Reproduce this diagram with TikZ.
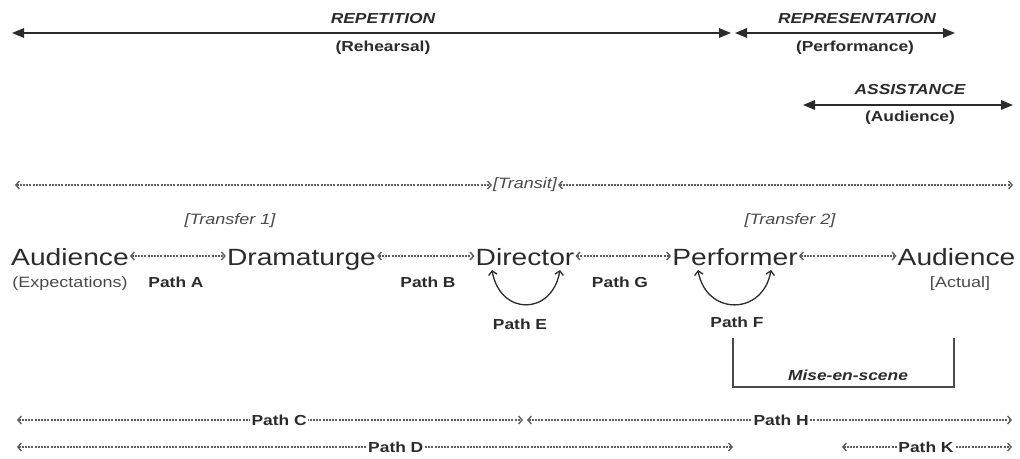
\documentclass[tikz,border=0pt]{standalone}
\usepackage{fontspec}
\setmainfont[FakeStretch=1.2]{Liberation Sans}
\usetikzlibrary{arrows.meta}
\definecolor{ink}{HTML}{2B2B2B}
\definecolor{soft}{HTML}{4A4A4A}
\definecolor{dotc}{HTML}{5E5E5E}
\tikzset{
  solidarr/.style={draw=ink, line width=1.6pt, {Triangle[length=12pt,width=9.5pt]}-{Triangle[length=12pt,width=9.5pt]}},
  dotarr/.style={draw=dotc, line width=1.4pt, dash pattern=on 2pt off 1.2pt,
     {Straight Barb[length=3.5pt,width=8pt]}-{Straight Barb[length=3.5pt,width=8pt]}},
  curvarr/.style={draw=ink, line width=1.3pt, {Straight Barb[length=4pt,width=8.5pt]}-{Straight Barb[length=4pt,width=8.5pt]}},
  brackline/.style={draw=soft, line width=1.3pt},
  head/.style={font=\fontsize{14.5}{16}\selectfont\bfseries\itshape, text=ink, inner sep=1pt},
  sub/.style={font=\fontsize{14.5}{16}\selectfont\bfseries, text=ink, inner sep=1pt},
  big/.style={font=\fontsize{23.5}{26}\selectfont, text=ink, text height=18pt, text depth=0pt, inner sep=1pt},
  note/.style={font=\fontsize{15}{17}\selectfont, text=soft, inner sep=1pt},
  brk/.style={font=\fontsize{15}{17}\selectfont\itshape, text=soft, inner sep=1pt},
  plabel/.style={font=\fontsize{14.5}{16}\selectfont\bfseries, text=ink, inner sep=1pt},
  plfill/.style={plabel, fill=white, inner xsep=1.5pt}
}
\begin{document}
\begin{tikzpicture}[x=1pt,y=-1pt]
\useasboundingbox (0,0) rectangle (1020,458);

% top solid arrows
\coordinate (r1) at (12,33); \coordinate (r2) at (731,33);
\coordinate (p1) at (735,33); \coordinate (p2) at (955,33);
\coordinate (a1) at (803,105); \coordinate (a2) at (1013,105);
\draw[solidarr] (r1) -- (r2);
\draw[solidarr] (p1) -- (p2);
\draw[solidarr] (a1) -- (a2);
\node[head] (rep) at (383,19) {REPETITION};
\node[sub] (reh) at (383,48) {(Rehearsal)};
\node[head] (repr) at (857,19) {REPRESENTATION};
\node[sub] (perfm) at (855,48) {(Performance)};
\node[head] (assist) at (910,90) {ASSISTANCE};
\node[sub] (audc) at (910,118) {(Audience)};

% transit row
\node[brk] (transit) at (525,185) {[Transit]};
\coordinate (t1) at (15,185); \coordinate (t2) at (1013,185);
\draw[dotarr] (t1) -- (transit.west);
\draw[dotarr] (transit.east) -- (t2);
\node[brk] (tr1) at (230,221) {[Transfer 1]};
\node[brk] (tr2) at (790,221) {[Transfer 2]};

% main row
\node[big, anchor=base] (aud1) at (70,265) {Audience};
\node[big, anchor=base] (dram) at (301.5,265) {Dramaturge};
\node[big, anchor=base] (dir) at (525,265) {Director};
\node[big, anchor=base] (perf) at (735,265) {Performer};
\node[big, anchor=base] (aud2) at (956.5,265) {Audience};
\draw[dotarr] (aud1) -- (dram);
\draw[dotarr] (dram) -- (dir);
\draw[dotarr] (dir) -- (perf);
\draw[dotarr] (perf) -- (aud2);

\node[note] (expect) at (70,284) {(Expectations)};
\node[note] (actual) at (960,284) {[Actual]};
\node[plabel] (pa) at (176,282) {Path A};
\node[plabel] (pb) at (428,282) {Path B};
\node[plabel] (pg) at (620,282) {Path G};
\node[plabel] (pe) at (520,324) {Path E};
\node[plabel] (pf) at (737,322) {Path F};

% self loops
\draw[curvarr] ([xshift=-33pt,yshift=-5pt]dir.base) .. controls +(8,46) and +(-8,46) .. ([xshift=35pt,yshift=-5pt]dir.base);
\draw[curvarr] ([xshift=-37pt,yshift=-5pt]perf.base) .. controls +(8,46) and +(-8,46) .. ([xshift=36pt,yshift=-5pt]perf.base);

% mise-en-scene bracket
\coordinate (mL) at (733,338); \coordinate (mR) at (954,338);
\draw[brackline] (mL) -- ++(0,49) -| (mR);
\node[head] (mise) at (848,375) {Mise-en-scene};

% bottom rows
\coordinate (c1) at (17,420); \coordinate (c2) at (523,420);
\coordinate (h1) at (527,420); \coordinate (h2) at (1012,420);
\coordinate (d1) at (17,447); \coordinate (d2) at (733,447);
\coordinate (k1) at (842,447); \coordinate (k2) at (1012,447);
\draw[dotarr] (c1) -- node[plfill, pos=0.518] (pc) {Path C} (c2);
\draw[dotarr] (h1) -- node[plfill, pos=0.524] (ph) {Path H} (h2);
\draw[dotarr] (d1) -- node[plfill, pos=0.529] (pd) {Path D} (d2);
\draw[dotarr] (k1) -- node[plfill, pos=0.494] (pk) {Path K} (k2);
\end{tikzpicture}
\end{document}
